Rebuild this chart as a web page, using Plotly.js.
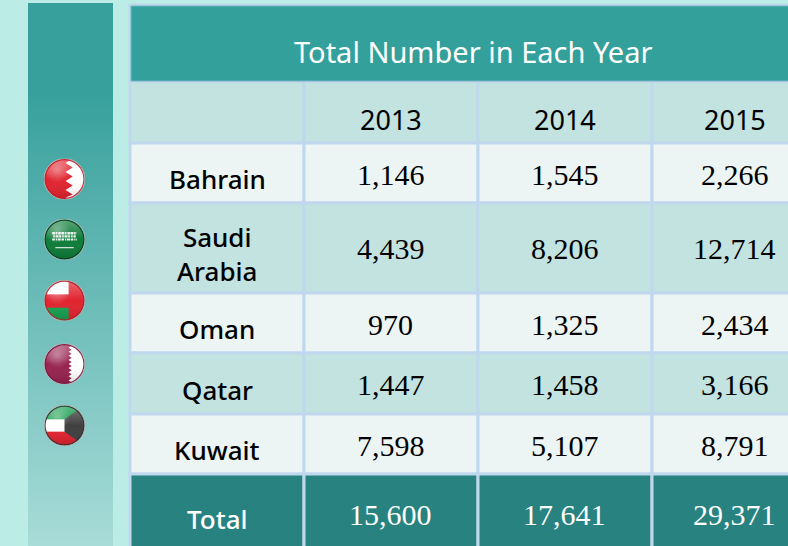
<!DOCTYPE html>
<html><head><meta charset="utf-8">
<script src="https://cdn.plot.ly/plotly-3.0.1.min.js"></script>
<style>html,body{margin:0;padding:0;background:#bbece6;overflow:hidden}</style>
</head><body><div id="chart" style="width:788px;height:546px"></div>
<script>
// ---- data ----
const chartTitle = 'Total Number in Each Year';
const years = ['2013', '2014', '2015'];
const countries = ['Bahrain', 'Saudi<br>Arabia', 'Oman', 'Qatar', 'Kuwait'];
const values2013 = ['1,146', '4,439', '970', '1,447', '7,598'];
const values2014 = ['1,545', '8,206', '1,325', '1,458', '5,107'];
const values2015 = ['2,266', '12,714', '2,434', '3,166', '8,791'];
const totalLabel = 'Total';
const totals = ['15,600', '17,641', '29,371'];

// ---- layout grid ----
const colEdges = [130, 304, 478, 652, 816];
const rowEdges = [81, 143, 203, 293, 353, 414, 474, 548];
const numX = [390.5, 564.5, 734.5];
const SANS = '"Noto Sans", sans-serif', SERIF = '"Liberation Serif", serif';
const GRID = '#bfd8ee', LIGHT = '#edf5f4', MID = '#c3e3e1', TITLE = '#33a09c', FOOT = '#278280';

const shapes = [], annotations = [], images = [];
function rect(x0, x1, y0, y1, fill, lineColor, lineWidth) {
  shapes.push({type:'rect', xref:'x', yref:'y', x0, x1, y0, y1, fillcolor:fill,
    line:{color:lineColor || GRID, width:lineWidth || 3}, layer:'below'});
}
function label(x, y, text, size, color, font, weight) {
  annotations.push({xref:'x', yref:'y', x, y, text, showarrow:false, xanchor:'center', yanchor:'middle',
    font:{family:font, size, color, weight: weight || 400}, align:'center'});
}
const cx = i => (colEdges[i] + colEdges[i+1]) / 2;

const rows = countries.map((c, i) => [c, values2013[i], values2014[i], values2015[i]]);
const headerRow = [''].concat(years);
const fills = [MID, LIGHT, MID, LIGHT, MID, LIGHT];
[headerRow].concat(rows).forEach((row, r) => {
  row.forEach((t, c) => {
    rect(colEdges[c], colEdges[c+1], rowEdges[r], rowEdges[r+1], fills[r]);
    const my = (rowEdges[r] + rowEdges[r+1]) / 2;
    if (r === 0) { if (c > 0) label(numX[c-1], 119.5, t, 27, '#000000', SANS); }
    else if (c === 0) label(217, my + (r === 2 ? 6 : 6), t, 26, '#000000', SANS, 500);
    else label(numX[c-1], my + (r === 2 ? 0 : 1), t, 30, '#000000', SERIF);
  });
});
[totalLabel].concat(totals).forEach((t, c) => {
  rect(colEdges[c], colEdges[c+1], rowEdges[6], rowEdges[7], FOOT);
  if (c === 0) label(217, 519, t, 26, '#ffffff', SANS, 500);
  else label(numX[c-1], 514, t, 30, '#ffffff', SERIF);
});

// title band drawn last so its edge sits above the header row
rect(130, 816, 5, 81, TITLE, GRID, 3);
rect(131, 816, 6, 81, TITLE, '#73b6c6', 1);
label(473, 51.5, chartTitle, 29, '#ffffff', SANS);

// ---- side band and flag badges ----
function svgUri(w, h, body) {
  return 'data:image/svg+xml;utf8,' + encodeURIComponent(
    `<svg xmlns="http://www.w3.org/2000/svg" width="${w}" height="${h}" viewBox="0 0 ${w} ${h}">${body}</svg>`);
}
images.push({source: svgUri(85, 543,
  `<defs><linearGradient id="g" x1="0" y1="0" x2="0" y2="1">
   <stop offset="0" stop-color="#37a09c"/><stop offset="0.16" stop-color="#37a09c"/>
   <stop offset="1" stop-color="#a8dcd8"/></linearGradient></defs><rect width="85" height="543" fill="url(#g)"/>`),
  xref:'x', yref:'y', x:28, y:3, sizex:85, sizey:543, sizing:'stretch', xanchor:'left', yanchor:'top', layer:'below'});

const bahrain = `<rect width="40" height="40" fill="#ffffff"/><path d="M0 0H28L21 4.4 28 8.8 21 13.2 28 17.6 21 22 28 26.4 21 30.8 28 35.2 21 38 24 40H0Z" fill="#e0202c"/>`;
const saudi = `<rect width="40" height="40" fill="#0a7a36"/><path d="M8 14H32" stroke="#e8f4ec" stroke-width="2.4" stroke-dasharray="3 .6 1.5 .8 2.5 .5"/><path d="M9 17H31" stroke="#e8f4ec" stroke-width="2.2" stroke-dasharray="1.6 .7 3 .5 2 .9"/><path d="M8 20H32" stroke="#e8f4ec" stroke-width="2" stroke-dasharray="2.6 .9 1.2 .6 3 .7"/><rect x="11" y="27.5" width="18" height="1" fill="#fff"/>`;
const oman = `<rect width="40" height="40" fill="#e0202c"/><rect width="24" height="14" fill="#ffffff"/><rect y="27" width="24" height="13" fill="#11a04e"/>`;
const qatar = `<rect width="40" height="40" fill="#ffffff"/><path d="M0 0H24L27 2 24 4 27 6 24 8 27 10 24 12 27 14 24 16 27 18 24 20 27 22 24 24 27 26 24 28 27 30 24 32 27 34 24 36 27 38 24 40H0Z" fill="#96204c"/>`;
const kuwait = `<rect width="40" height="40" fill="#fff"/><rect width="40" height="14" fill="#0f9a48"/><rect y="26" width="40" height="14" fill="#e0202c"/><path d="M40 0V40L20 26V14Z" fill="#3c3c3c"/><path d="M20 14 34 2 40 0V-1H20Z" fill="#0f9a48"/>`;

function badge(flag, border, cxp, cyp) {
  const body = `<defs><clipPath id="c"><circle cx="20" cy="20" r="19.5"/></clipPath>
   <linearGradient id="sh" x1="0" y1="0" x2="0" y2="1"><stop offset="0" stop-color="#fff" stop-opacity=".34"/><stop offset=".5" stop-color="#fff" stop-opacity=".02"/><stop offset="1" stop-color="#000" stop-opacity=".14"/></linearGradient>
   <radialGradient id="gl" cx=".32" cy=".28" r=".32"><stop offset="0" stop-color="#fff" stop-opacity=".35"/><stop offset="1" stop-color="#fff" stop-opacity="0"/></radialGradient></defs>
   <g clip-path="url(#c)">${flag}<rect width="40" height="40" fill="url(#sh)"/><rect width="40" height="40" fill="url(#gl)"/></g>
   <circle cx="20" cy="20" r="19" fill="none" stroke="${border}" stroke-width="1.2" opacity=".9"/>
   <circle cx="20" cy="20" r="20" fill="none" stroke="#b8b8b8" stroke-width="0.8"/>`;
  images.push({source: svgUri(40, 40, body), xref:'x', yref:'y', x:cxp-20.5, y:cyp-20.5, sizex:41, sizey:41,
    sizing:'stretch', xanchor:'left', yanchor:'top', layer:'above'});
}
badge(bahrain, '#c81c2a', 64.5, 179);
badge(saudi, '#063c1c', 64.5, 239.5);
badge(oman, '#b02028', 64.5, 300.5);
badge(qatar, '#7a1a3e', 64.5, 364);
badge(kuwait, '#333333', 64.5, 425.5);

const hidden = {visible:false, fixedrange:true};
Plotly.newPlot('chart', [{type:'scatter', x:[0,788], y:[0,546], mode:'none', hoverinfo:'skip', showlegend:false}], {
  width:788, height:546, margin:{l:0,r:0,t:0,b:0,pad:0}, paper_bgcolor:'#bbece6', plot_bgcolor:'#bbece6',
  xaxis:Object.assign({range:[0,788]}, hidden), yaxis:Object.assign({range:[546,0]}, hidden),
  shapes, annotations, images, showlegend:false
}, {displayModeBar:false, staticPlot:true});
</script></body></html>
